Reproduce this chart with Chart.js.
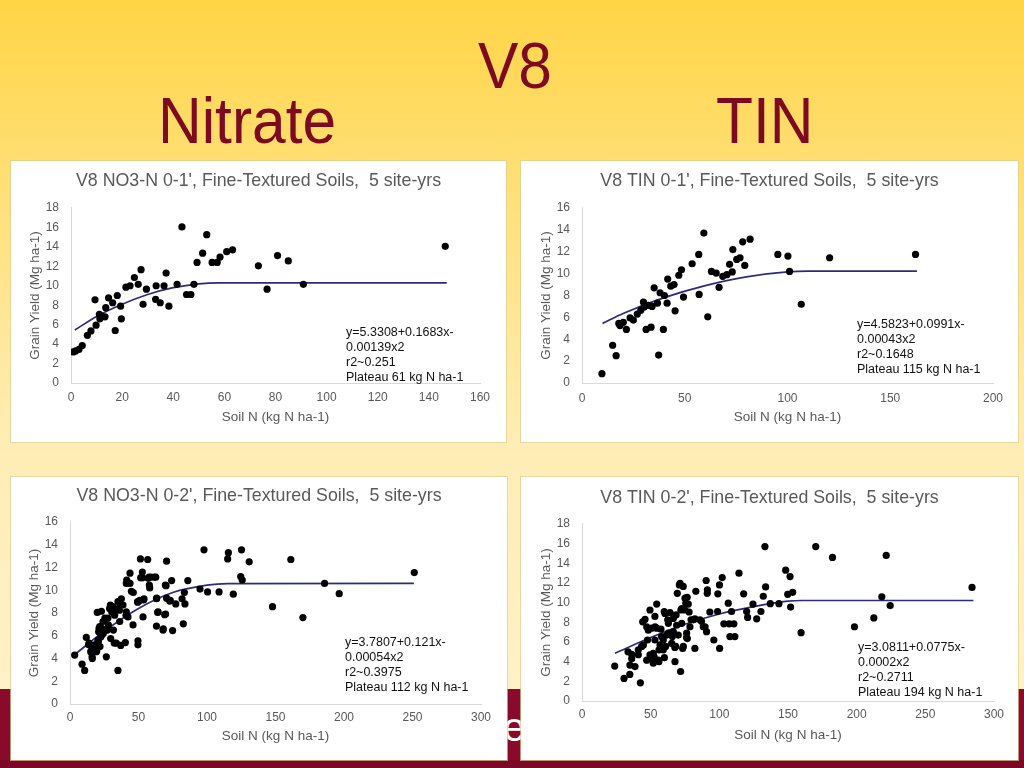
<!DOCTYPE html>
<html>
<head>
<meta charset="utf-8">
<script src="https://cdn.jsdelivr.net/npm/chart.js@4.4.1/dist/chart.umd.min.js"></script>
<style>
  body {
    margin: 0; width: 1024px; height: 768px; overflow: hidden; position: relative;
    background: linear-gradient(#FFD445 0%, #FFDE6F 20%, #FFEDB5 58%, #FFF3CE 100%);
    font-family: "Liberation Sans", Arial, sans-serif;
  }
  .band { position: absolute; left: 0; top: 689px; width: 1024px; height: 79px; background: #8A0A2C; }
  .band2 { position: absolute; left: 0; top: 760px; width: 1024px; height: 8px; background: #7C0827; }
  .ghost { position: absolute; left: 503px; top: 707px; color: #fff; font-size: 40px; line-height: 40px; }
  .head { position: absolute; color: #7D0A20; font-size: 64px; line-height: 64px; transform: scaleX(0.945); transform-origin: 0 0; }
  .panel { position: absolute; background: #fff; box-shadow: 0 0 0 1px rgba(220, 205, 150, 0.7); }
  .panel canvas { position: absolute; left: 0; top: 0; }
  .note { position: absolute; font-size: 12.5px; line-height: 15px; color: #111; white-space: pre; }
</style>
</head>
<body>
<div class="band"></div>
<div class="band2"></div>
<div class="ghost">e</div>

<div class="head" style="left:478px; top:34px">V8</div>
<div class="head" style="left:158px; top:89px">Nitrate</div>
<div class="head" style="left:716px; top:89px">TIN</div>

<div class="panel" id="p1" style="left:11px; top:161px; width:495px; height:281px"><canvas></canvas><div class="note" style="left:335px; top:164px"></div></div>
<div class="panel" id="p2" style="left:521px; top:161px; width:497px; height:281px"><canvas></canvas><div class="note" style="left:336px; top:156px"></div></div>
<div class="panel" id="p3" style="left:11px; top:477px; width:496px; height:283px"><canvas></canvas><div class="note" style="left:334px; top:158px"></div></div>
<div class="panel" id="p4" style="left:521px; top:477px; width:497px; height:283px"><canvas></canvas><div class="note" style="left:337px; top:163px"></div></div>

<script>
// ---- data ----
const titles = [
  "V8 NO3-N 0-1', Fine-Textured Soils,  5 site-yrs",
  "V8 TIN 0-1', Fine-Textured Soils,  5 site-yrs",
  "V8 NO3-N 0-2', Fine-Textured Soils,  5 site-yrs",
  "V8 TIN 0-2', Fine-Textured Soils,  5 site-yrs"
];
const xTitle = 'Soil N (kg N ha-1)';
const yTitle = 'Grain Yield (Mg ha-1)';
const xMax = [160, 200, 300, 300];
const xStep = [20, 50, 50, 50];
const yMax = [18, 16, 16, 18];
const yStep = [2, 2, 2, 2];

const notes = [
  ['y=5.3308+0.1683x-', '0.00139x2', 'r2~0.251', 'Plateau 61 kg N ha-1'],
  ['y=4.5823+0.0991x-', '0.00043x2', 'r2~0.1648', 'Plateau 115 kg N ha-1'],
  ['y=3.7807+0.121x-', '0.00054x2', 'r2~0.3975', 'Plateau 112 kg N ha-1'],
  ['y=3.0811+0.0775x-', '0.0002x2', 'r2~0.2711', 'Plateau 194 kg N ha-1']
];

// NO3-N 0-1'
const soilN1 = [0.9,1.8,3.1,4.4,6.4,7.8,9.4,9.8,11.1,11.3,12.0,13.3,13.6,14.7,16.3,17.3,18.1,19.4,19.7,21.5,23.1,24.8,26.3,27.4,28.2,29.5,33.3,33.1,34.9,36.4,37.2,38.3,41.5,43.4,45.2,46.9,48.1,49.3,51.5,53.1,55.2,57.2,58.3,60.9,63.2,73.3,76.7,80.8,85.0,90.9,146.4];
const yield1 = [3.2,3.3,3.45,3.85,4.9,5.35,8.55,5.95,7.05,6.6,6.85,6.8,7.75,8.75,8.25,5.4,9.0,7.9,6.6,9.85,10.0,10.85,10.15,11.65,8.1,9.65,10.0,8.6,8.25,10.0,11.3,7.9,10.15,16.05,9.1,9.1,10.15,12.4,13.35,15.25,12.4,12.4,12.95,13.5,13.7,12.05,9.65,13.1,12.55,10.15,14.05];
const fitN1 = [1.5, 10, 20, 30, 40, 50, 58, 147];
const fitY1 = [5.45, 6.85, 8.1, 9.1, 9.8, 10.2, 10.3, 10.3];

// TIN 0-1'
const soilN2 = [9.7,14.9,16.6,17.9,18.5,20.1,21.6,23.4,25.0,26.9,28.6,29.9,30.2,31.2,32.3,33.6,34.1,35.1,36.7,37.3,38.0,39.6,40.1,41.4,41.7,43.2,44.8,45.3,47.1,48.4,49.4,53.6,56.8,57.0,59.3,61.2,63.0,65.3,66.7,68.5,70.5,71.8,73.1,73.4,75.3,76.9,79.2,78.2,81.8,95.3,100.2,101.0,106.7,120.5,162.3];
const yield2 = [0.85,3.45,2.5,5.45,5.25,5.55,4.9,5.95,5.75,6.3,6.65,7.4,6.95,4.9,7.1,5.1,7.0,8.7,7.3,2.55,8.25,4.9,8.0,7.3,9.5,8.85,9.0,6.6,9.85,10.35,7.85,10.9,11.75,8.1,13.7,6.05,10.2,10.05,8.75,9.75,9.9,10.85,10.15,12.2,11.3,11.45,10.75,12.9,13.15,11.75,11.6,10.2,7.2,11.45,11.75];
const fitN2 = [10, 20, 40, 60, 80, 100, 110, 163];
const fitY2 = [5.45, 6.35, 7.8, 8.9, 9.7, 10.15, 10.22, 10.22];

// NO3-N 0-2'
const soilN3 = [3.4,8.8,10.7,11.9,13.6,13.9,15.1,15.8,16.1,16.3,16.8,18.0,19.2,19.5,20.4,20.7,20.9,21.2,21.7,21.9,22.6,22.9,19.9,22.9,23.1,24.1,24.3,25.3,25.5,26.5,27.3,27.7,28.0,28.9,29.5,29.7,30.4,31.4,31.7,32.4,32.6,32.8,33.8,35.0,35.0,36.1,36.3,36.5,37.0,37.5,38.7,40.4,40.9,41.1,42.3,41.1,41.4,43.8,43.8,44.8,46.0,46.2,49.4,49.6,49.6,49.4,50.9,51.4,51.6,52.8,52.8,53.3,53.8,54.0,56.7,57.0,57.7,57.9,58.2,59.1,61.6,62.6,63.1,63.1,63.3,64.0,64.3,67.9,68.1,69.1,69.6,69.8,70.1,70.5,70.5,72.8,73.2,74.2,74.9,77.2,81.8,82.7,83.5,83.9,86.0,94.9,97.8,100.4,108.8,115.6,115.1,119.2,125.2,124.6,125.7,130.8,147.8,161.2,170.0,185.8,196.5,251.3];
const yield3 = [4.3,3.5,2.95,5.85,5.2,5.35,4.6,5.05,4.15,4.0,4.85,5.2,4.6,4.65,5.6,5.5,6.35,6.65,6.8,5.05,5.9,6.05,8.05,8.15,6.65,7.25,6.2,6.5,7.55,4.15,6.5,7.55,6.95,8.4,8.7,5.75,8.1,8.55,6.5,5.35,7.8,8.35,5.35,9.0,2.95,8.25,7.25,8.7,5.15,9.25,8.7,5.4,7.8,8.1,7.65,10.6,10.9,11.5,10.6,9.9,6.95,9.8,8.95,5.55,5.2,9.0,9.1,12.75,11.1,11.6,11.1,7.65,9.15,9.25,12.7,11.05,11.15,10.45,10.2,11.15,11.15,11.15,9.25,6.85,9.3,8.05,8.1,6.5,6.6,7.85,10.45,7.9,10.4,12.55,9.3,9.05,9.1,10.85,6.45,8.8,9.25,7.05,9.8,8.8,10.85,10.1,13.55,9.85,9.85,13.3,12.75,9.65,13.55,11.2,10.9,12.5,8.55,12.7,7.6,10.6,9.7,11.55];
const fitN3 = [4, 25, 50, 75, 100, 115, 251];
const fitY3 = [4.4, 6.4, 8.4, 9.8, 10.45, 10.58, 10.6];

// TIN 0-2'
const soilN4 = [23.8,30.6,33.5,34.8,34.9,36.2,36.2,38.6,41.0,41.0,42.5,43.4,44.2,44.7,45.9,47.1,47.1,47.7,48.3,49.5,49.5,50.7,50.7,51.9,51.9,52.5,53.1,53.1,53.2,54.4,54.4,55.6,56.0,56.1,56.8,57.5,57.9,59.2,59.2,59.9,60.0,60.4,60.9,61.7,62.4,62.9,62.9,64.1,65.3,65.8,66.5,66.5,67.6,67.7,68.2,68.5,68.9,69.4,70.1,70.9,71.4,72.0,71.8,72.6,72.6,73.3,73.7,73.8,75.0,75.0,75.6,76.1,76.2,76.6,76.7,77.4,78.0,78.6,79.4,81.1,82.2,82.2,82.9,85.9,87.0,88.3,89.6,90.4,90.7,91.2,91.3,93.1,96.0,98.7,98.9,100.1,100.2,102.1,103.3,106.5,107.2,107.7,108.9,110.6,111.3,114.3,117.7,119.9,120.6,124.5,127.2,130.3,132.0,133.2,133.7,137.1,143.4,148.3,149.8,151.5,151.9,153.4,159.5,170.2,182.4,198.4,212.5,218.3,221.5,224.4,284.0];
const yield4 = [3.55,2.3,5.0,2.7,3.65,4.3,4.75,3.5,4.7,5.2,1.85,5.55,8.05,5.7,8.3,4.15,7.55,6.2,7.2,4.7,9.25,4.35,7.4,3.85,4.85,4.5,6.2,8.6,7.55,9.85,7.4,4.15,4.0,5.2,5.7,7.3,6.55,5.2,6.2,9.1,4.4,8.9,5.55,6.7,8.25,6.9,7.9,9.0,5.85,6.55,8.4,7.05,5.45,4.0,5.55,8.75,7.7,10.95,6.7,11.8,11.95,9.25,3.0,7.9,9.4,5.35,11.65,5.55,9.25,10.45,9.95,6.45,6.9,10.55,6.35,9.85,9.05,7.55,8.25,8.25,8.35,5.35,11.15,8.25,8.1,7.55,7.55,12.25,7.05,10.95,11.3,9.05,6.2,9.1,10.9,11.8,5.35,12.55,7.85,9.95,7.85,6.55,9.1,7.85,6.55,13.0,10.9,9.1,8.5,9.85,8.35,9.1,10.65,15.7,11.6,9.9,9.9,13.3,10.85,12.65,9.55,11.05,6.95,15.7,14.6,7.55,8.45,10.6,14.8,9.7,11.55];
const fitN4 = [24, 50, 75, 100, 125, 150, 160, 285];
const fitY4 = [4.85, 6.45, 7.8, 8.85, 9.6, 10.15, 10.22, 10.22];

// ---- layout of each panel (pixels inside the panel) ----
const FONT = '"Liberation Sans", Arial, sans-serif';
const GRAY = '#595959';
const geos = [
  {left: 60, right: 469, top: 47, bottom: 222, titleY: 20, tickY: 15, titleX: 34, titleYX: 24.5},
  {left: 61, right: 472, top: 47, bottom: 222, titleY: 19.7, tickY: 15.3, titleX: 34.3, titleYX: 25.7},
  {left: 59, right: 470, top: 45, bottom: 227, titleY: 19, tickY: 13.7, titleX: 32.7, titleYX: 23.5},
  {left: 61, right: 473, top: 47, bottom: 224, titleY: 20.7, tickY: 14, titleX: 34, titleYX: 25.7}
];

function toPts(xs, ys) {
  return xs.map((x, i) => ({x: x, y: ys[i]}));
}

function makeChart(idx, xs, ys, fx, fy) {
  const panel = document.getElementById('p' + (idx + 1));
  const geo = geos[idx];
  const W = panel.clientWidth, H = panel.clientHeight;
  const xH = H - geo.bottom;
  panel.querySelector('.note').textContent = notes[idx].join('\n');

  new Chart(panel.querySelector('canvas'), {
    type: 'scatter',
    data: {
      datasets: [
        {data: toPts(xs, ys), backgroundColor: '#000', borderWidth: 0, pointRadius: 3.6, order: 1},
        {type: 'line', data: toPts(fx, fy), borderColor: '#2E2A7E', borderWidth: 1.7, pointRadius: 0,
         fill: false, cubicInterpolationMode: 'monotone', order: 2}
      ]
    },
    options: {
      responsive: true,
      maintainAspectRatio: false,
      animation: false,
      layout: {padding: 0},
      plugins: {
        legend: {display: false},
        tooltip: {enabled: false},
        title: {
          display: true, text: titles[idx], color: GRAY,
          font: {family: FONT, size: 17.8, weight: 'normal'},
          padding: {top: geo.titleY - 10.7, bottom: geo.top - geo.titleY - 10.7}
        }
      },
      scales: {
        x: {
          type: 'linear', min: 0, max: xMax[idx],
          grid: {display: false, drawTicks: false},
          border: {display: true, color: '#D9D9D9'},
          ticks: {stepSize: xStep[idx], color: GRAY, font: {family: FONT, size: 12}, padding: geo.tickY - 7.2, maxRotation: 0},
          title: {display: true, text: xTitle, color: GRAY, font: {family: FONT, size: 13.5},
                  padding: {top: 0, bottom: xH - 8.1 - geo.titleX}},
          afterFit: s => { s.height = xH; s.paddingLeft = 0; s.paddingRight = W - geo.right; }
        },
        y: {
          type: 'linear', min: 0, max: yMax[idx],
          grid: {display: false, drawTicks: false},
          border: {display: true, color: '#D9D9D9'},
          ticks: {stepSize: yStep[idx], color: GRAY, font: {family: FONT, size: 12}, padding: 12},
          title: {display: true, text: yTitle, color: GRAY, font: {family: FONT, size: 13.5},
                  padding: {top: geo.titleYX - 8.1, bottom: 0}},
          afterFit: s => { s.width = geo.left; s.paddingTop = 0; s.paddingBottom = 0; }
        }
      }
    }
  });
}

makeChart(0, soilN1, yield1, fitN1, fitY1);
makeChart(1, soilN2, yield2, fitN2, fitY2);
makeChart(2, soilN3, yield3, fitN3, fitY3);
makeChart(3, soilN4, yield4, fitN4, fitY4);
</script>
</body>
</html>
